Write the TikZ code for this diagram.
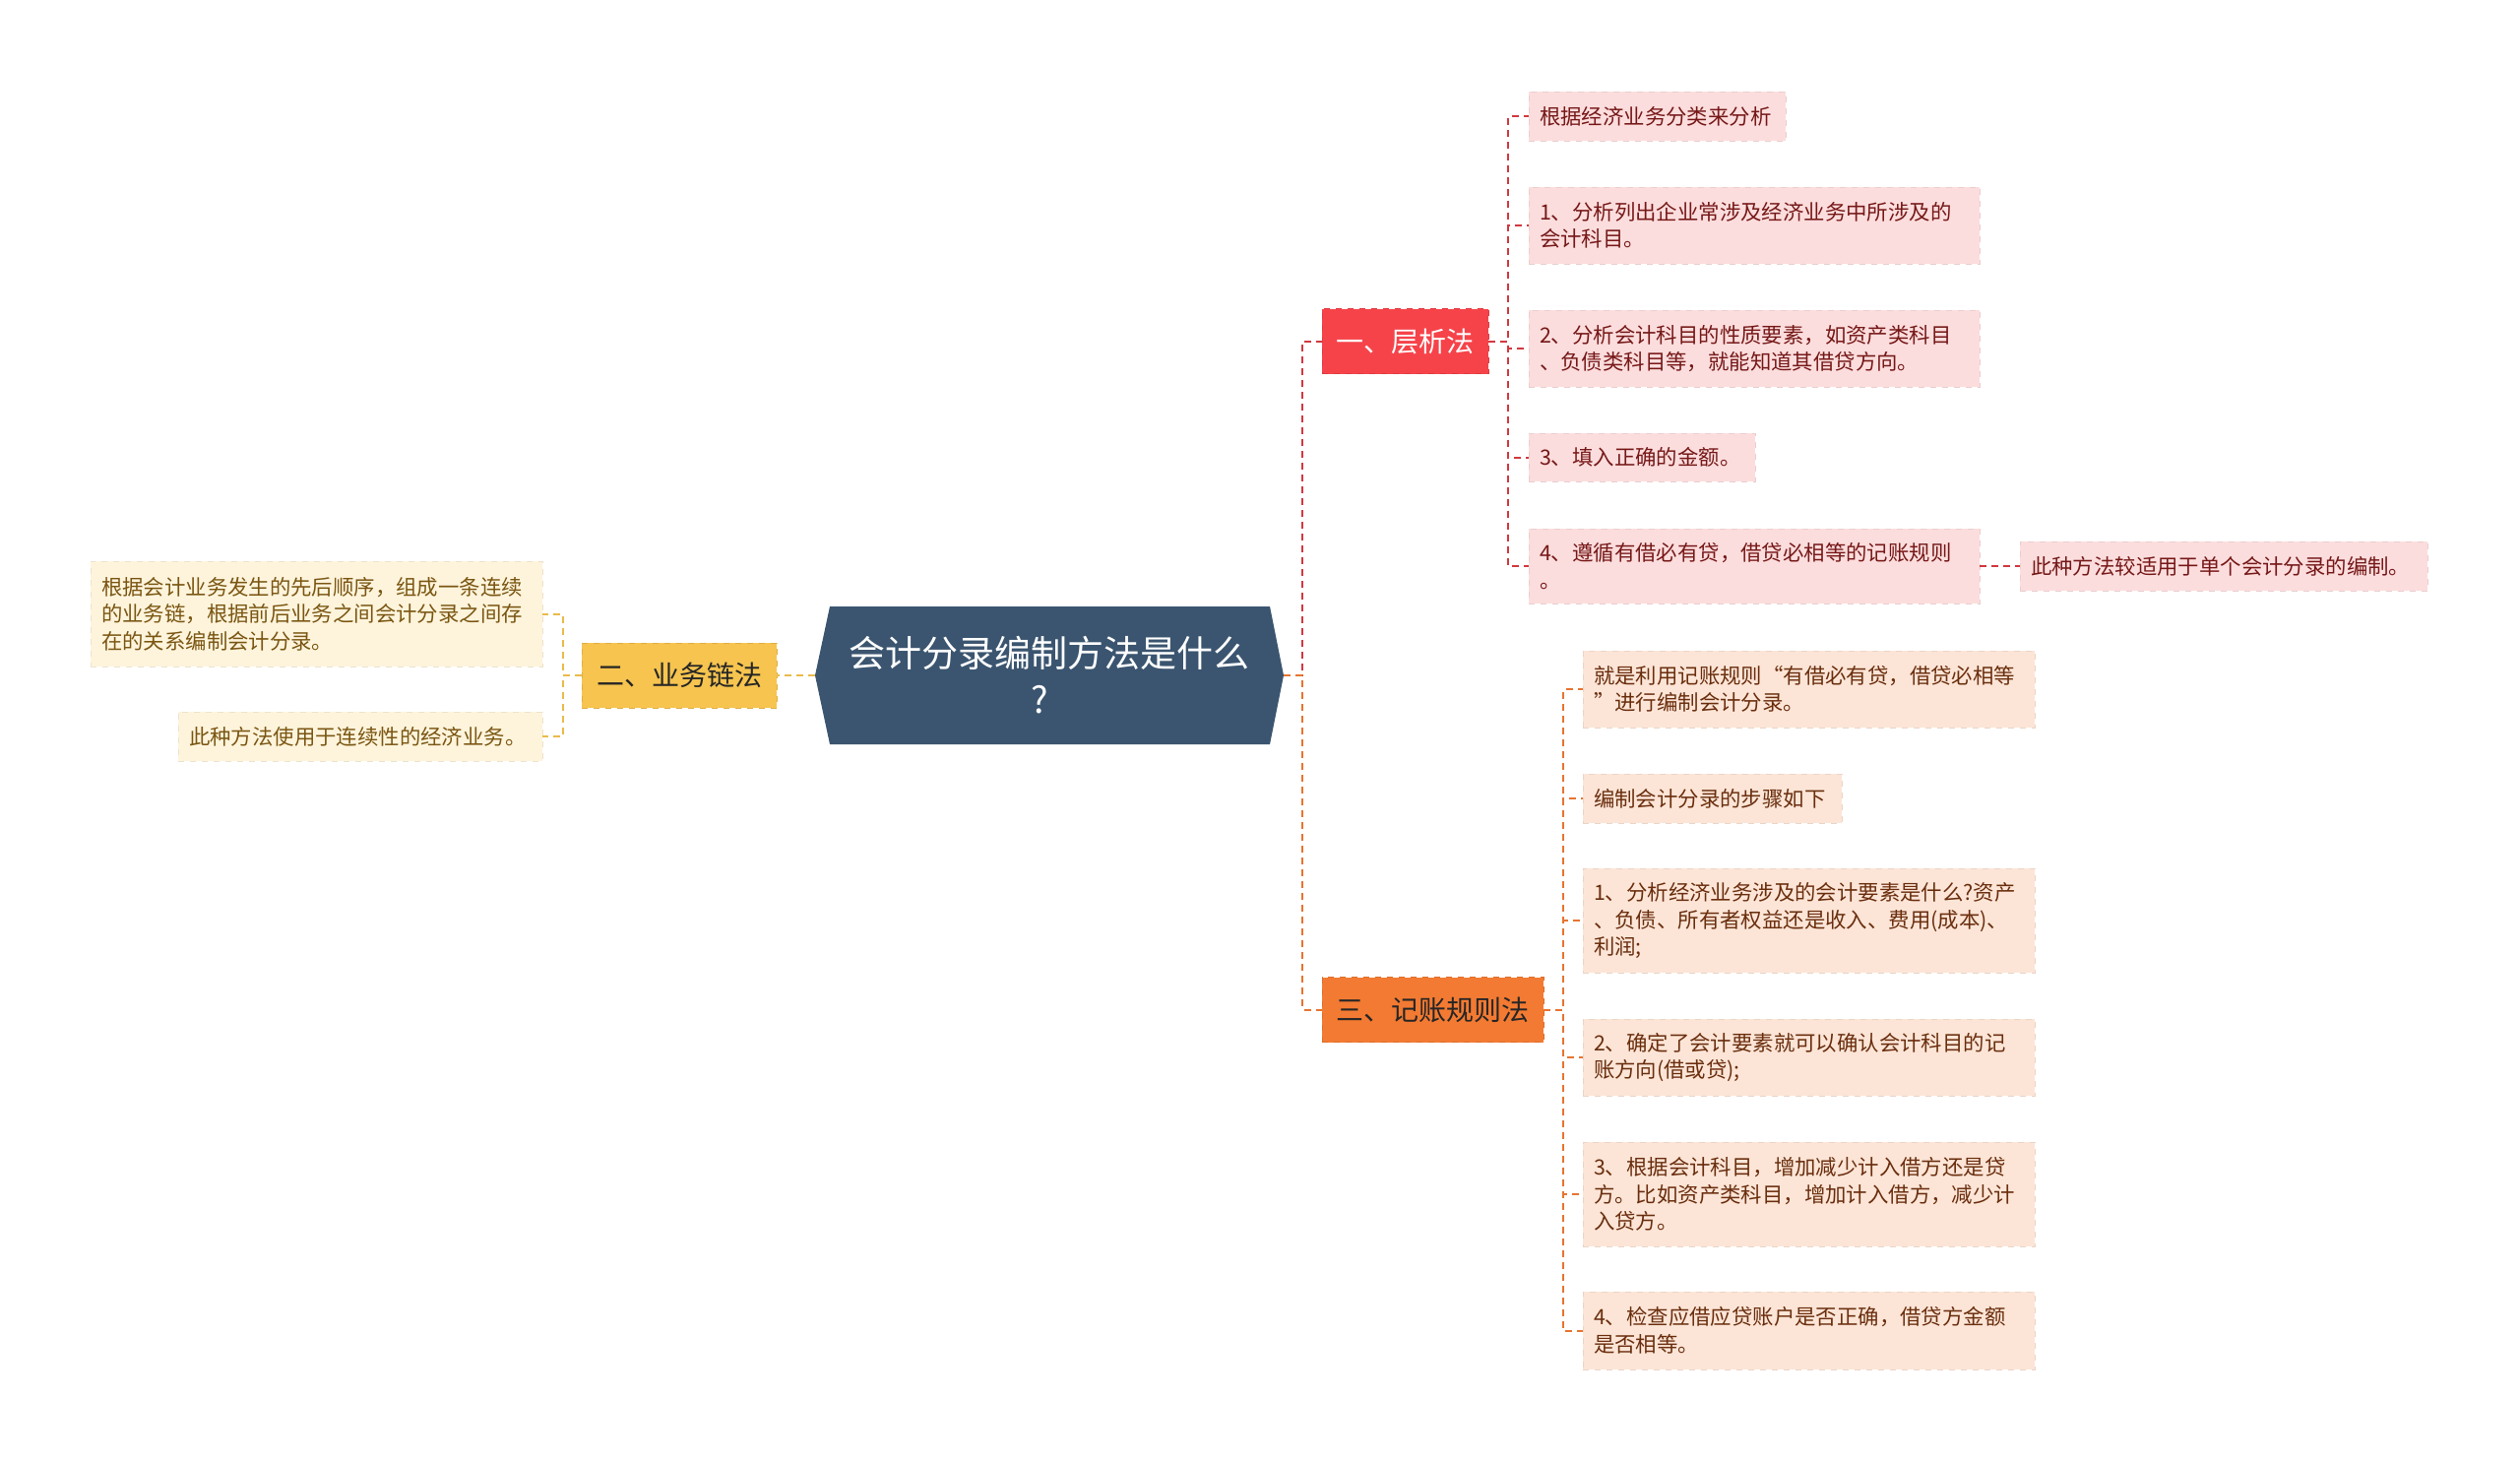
\documentclass[tikz,border=0pt]{standalone}
\usepackage{fontspec}
\setmainfont{Noto Sans CJK SC}
\usetikzlibrary{positioning}
\definecolor{rootblue}{HTML}{3B5570}
\definecolor{layred}{HTML}{F6434A}
\definecolor{chainyellow}{HTML}{F6C44F}
\definecolor{ruleorange}{HTML}{F37A32}
\definecolor{pinkfill}{HTML}{FCDDDD}
\definecolor{pinktext}{HTML}{761818}
\definecolor{peachfill}{HTML}{FCE5D7}
\definecolor{peachtext}{HTML}{6A2E0E}
\definecolor{creamfill}{HTML}{FEF4DC}
\definecolor{creamtext}{HTML}{7A5612}
\tikzset{
  roottext/.style={text=white, align=center, font=\fontsize{18.5pt}{23.5pt}\selectfont},
  branch/.style={fill=#1, draw=#1!90!black, dashed, line width=0.4pt, minimum height=33pt,
    align=center, font=\fontsize{14pt}{17pt}\selectfont},
  leaf/.style={align=left, inner xsep=5.5pt, inner ysep=0pt, line width=0.4pt, dashed,
    font=\fontsize{10.7pt}{13.75pt}\selectfont},
  leafP/.style={leaf, fill=pinkfill, draw=pinkfill!93!black, text=pinktext, text width=#1},
  leafO/.style={leaf, fill=peachfill, draw=peachfill!93!black, text=peachtext, text width=#1},
  leafY/.style={leaf, fill=creamfill, draw=creamfill!93!black, text=creamtext, text width=#1},
  link/.style={line width=1pt, dash pattern=on 3.5pt off 2.5pt},
  linkY/.style={link, draw=chainyellow!95!black},
  linkR/.style={link, draw=layred!85!black},
  linkO/.style={link, draw=ruleorange!95!black},
}
\begin{document}
\begin{tikzpicture}[x=0.5pt,y=-0.5pt]
  \useasboundingbox (0,0) rectangle (2560,1484);
  % root
  \fill[rootblue] (828,686) -- (843,616) -- (1290,616) -- (1304,686) -- (1290,756) -- (843,756) -- cycle;
  \node[roottext] (root) at (1066,686) {会计分录编制方法是什么\\?\hspace*{10pt}};
  \coordinate (root-w) at (828,686);
  \coordinate (root-e) at (1304,686);
  %
  % left branch
  \node[branch=chainyellow, text=black!85, minimum width=99pt] (chain) at (690,686) {二、业务链法};
  \node[leafY=218.5pt, minimum height=53.5pt] (l1) at (321.5,623.5) {根据会计业务发生的先后顺序，组成一条连续\\的业务链，根据前后业务之间会计分录之间存\\在的关系编制会计分录。};
  \node[leafY=174pt, minimum height=25pt] (l2) at (366,748) {此种方法使用于连续性的经济业务。};
  %
  % upper right branch
  \node[branch=layred, text=white, minimum width=84.5pt] (lay) at (1427.5,346.5) {一、层析法};
  \node[leafP=119.5pt, minimum height=25pt] (c1) at (1683.5,118) {根据经济业务分类来分析};
  \node[leafP=218pt, minimum height=39pt] (c2) at (1782,229) {1、分析列出企业常涉及经济业务中所涉及的\\会计科目。};
  \node[leafP=218pt, minimum height=39pt] (c3) at (1782,354) {2、分析会计科目的性质要素，如资产类科目\\、负债类科目等，就能知道其借贷方向。};
  \node[leafP=104pt, minimum height=24.5pt] (c4) at (1668,464.5) {3、填入正确的金额。};
  \node[leafP=218pt, minimum height=38pt] (c5) at (1782,575) {4、遵循有借必有贷，借贷必相等的记账规则\\。};
  \node[leafP=196pt, minimum height=25pt] (c6) at (2259,575) {此种方法较适用于单个会计分录的编制。};
  %
  % lower right branch
  \node[branch=ruleorange, text=black!85, minimum width=112.5pt] (rule) at (1455.5,1025.5) {三、记账规则法};
  \node[leafO=218.5pt, minimum height=39pt] (d1) at (1837.5,700) {就是利用记账规则“有借必有贷，借贷必相等\\”进行编制会计分录。};
  \node[leafO=120.5pt, minimum height=25pt] (d2) at (1739.5,811) {编制会计分录的步骤如下};
  \node[leafO=218.5pt, minimum height=53pt] (d3) at (1837.5,935) {1、分析经济业务涉及的会计要素是什么?资产\\、负债、所有者权益还是收入、费用(成本)、\\利润;};
  \node[leafO=218.5pt, minimum height=39pt] (d4) at (1837.5,1074) {2、确定了会计要素就可以确认会计科目的记\\账方向(借或贷);};
  \node[leafO=218.5pt, minimum height=53pt] (d5) at (1837.5,1213) {3、根据会计科目，增加减少计入借方还是贷\\方。比如资产类科目，增加计入借方，减少计\\入贷方。};
  \node[leafO=218.5pt, minimum height=39.5pt] (d6) at (1837.5,1351.5) {4、检查应借应贷账户是否正确，借贷方金额\\是否相等。};
  %
  % connectors
  \draw[linkY] (root-w) -- (chain.east);
  \draw[linkY] (chain.west) -- ++(-19,0) |- (l1.east);
  \draw[linkY] (chain.west) -- ++(-19,0) |- (l2.east);
  \draw[linkR] (root-e) -- ++(19,0) |- (lay.west);
  \draw[linkO] (root-e) -- ++(19,0) |- (rule.west);
  \draw[linkR] (lay.east) -- ++(20,0) |- (c1.west);
  \draw[linkR] (lay.east) -- ++(20,0) |- (c2.west);
  \draw[linkR] (lay.east) -- ++(20,0) |- (c3.west);
  \draw[linkR] (lay.east) -- ++(20,0) |- (c4.west);
  \draw[linkR] (lay.east) -- ++(20,0) |- (c5.west);
  \draw[linkR] (c5.east) -- (c6.west);
  \draw[linkO] (rule.east) -- ++(20,0) |- (d1.west);
  \draw[linkO] (rule.east) -- ++(20,0) |- (d2.west);
  \draw[linkO] (rule.east) -- ++(20,0) |- (d3.west);
  \draw[linkO] (rule.east) -- ++(20,0) |- (d4.west);
  \draw[linkO] (rule.east) -- ++(20,0) |- (d5.west);
  \draw[linkO] (rule.east) -- ++(20,0) |- (d6.west);
\end{tikzpicture}
\end{document}
